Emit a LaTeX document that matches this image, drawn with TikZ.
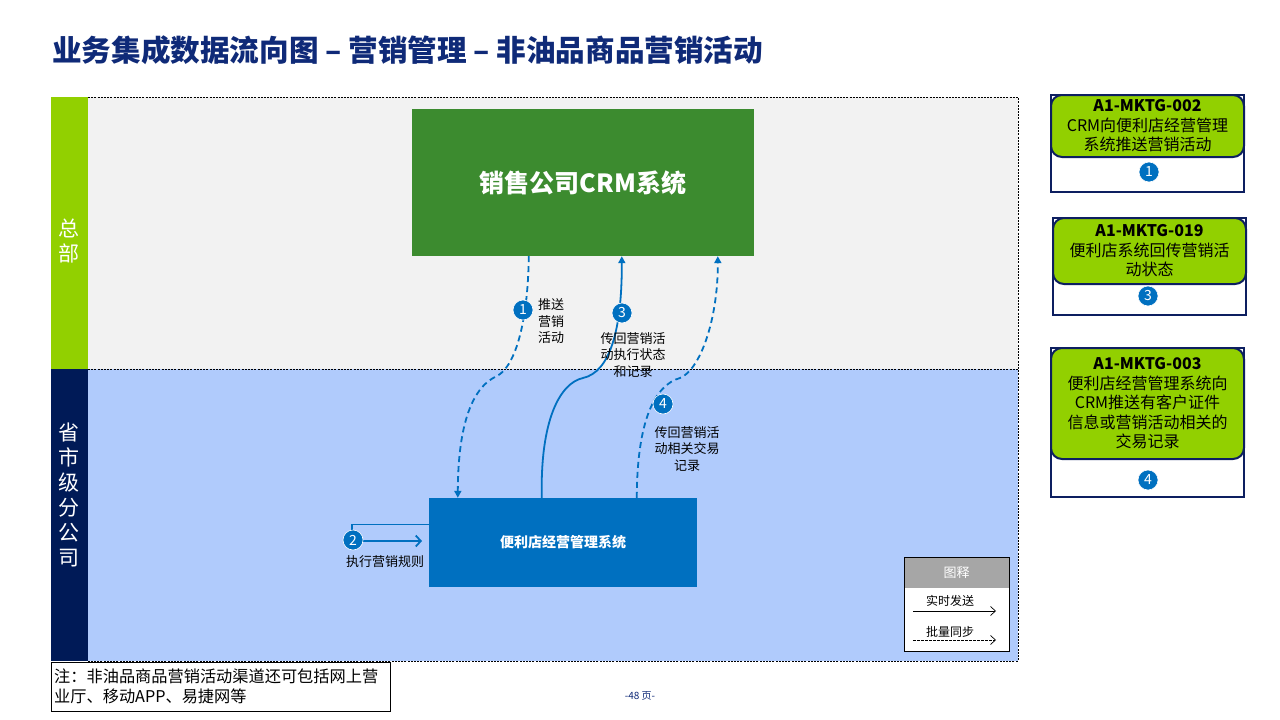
\documentclass[tikz,border=0pt]{standalone}
\usepackage{fontspec}
\setmainfont{Noto Sans CJK SC}
\usetikzlibrary{arrows.meta,calc}
\definecolor{titlenavy}{HTML}{0F2A78}
\definecolor{lanegreen}{HTML}{92D000}
\definecolor{lanenavy}{HTML}{001A57}
\definecolor{lanegray}{HTML}{F2F2F2}
\definecolor{laneblue}{HTML}{B0CBFC}
\definecolor{crmgreen}{HTML}{3C8B2F}
\definecolor{boxblue}{HTML}{0070C0}
\definecolor{cardnavy}{HTML}{0D1F60}
\definecolor{legendgray}{HTML}{A6A6A6}
\tikzset{
  numcirc/.style={circle, fill=boxblue, draw=white, line width=0.6pt, minimum size=20pt, inner sep=0pt, text=white, font=\fontsize{14}{14}\selectfont},
  flowline/.style={draw=boxblue, line width=1.8pt, -{Triangle[length=7pt,width=7pt]}},
  batch/.style={flowline, dash pattern=on 6pt off 4pt},
  lbl/.style={align=center, font=\fontsize{13}{16.5}\selectfont, inner sep=0pt},
  cardouter/.style={draw=cardnavy, line width=2.5pt, fill=white, minimum width=193pt, inner sep=0pt},
  cardhead/.style={draw=cardnavy, line width=2pt, fill=lanegreen, rounded corners=11pt, minimum width=193pt, inner sep=0pt},
  cardtext/.style={align=center, inner sep=0pt, font=\fontsize{16}{19.5}\selectfont},
  laneborder/.style={draw=black, line width=0.8pt, dash pattern=on 2pt off 1.2pt},
}
\begin{document}
\begin{tikzpicture}[x=1pt,y=-1pt]
\useasboundingbox[fill=white] (0,0) rectangle (1280,720);

% title
\node[anchor=west, inner sep=0pt, text=titlenavy, font=\fontsize{29.6}{29.6}\selectfont\bfseries] (title) at (52,50) {业务集成数据流向图 – 营销管理 – 非油品商品营销活动};

% lanes
\fill[lanegray] (88,97) rectangle (1018,369);
\fill[laneblue] (88,369) rectangle (1018,661);
\fill[lanegreen] (51,97) rectangle (88,369);
\fill[lanenavy] (51,369) rectangle (88,661);
\draw[laneborder] (88,97) -- (1018,97) -- (1018,661) -- (88,661);
\draw[laneborder] (88,369) -- (1018,369);
\node[text=white, align=center, inner sep=0pt, font=\fontsize{21}{25}\selectfont] (hq) at (69,241) {总\\部};
\node[text=white, align=center, inner sep=0pt, font=\fontsize{21}{25}\selectfont] (prov) at (69,494.5) {省\\市\\级\\分\\公\\司};

% systems
\node[fill=crmgreen, minimum width=342pt, minimum height=147pt, inner sep=0pt, text=white, font=\fontsize{25}{25}\selectfont\bfseries] (crm) at (583,182.5) {销售公司CRM系统};
\node[fill=boxblue, minimum width=268pt, minimum height=89pt, inner sep=0pt, text=white, font=\fontsize{14}{14}\selectfont\bfseries] (sys) at (563,542.5) {便利店经营管理系统};

% flows
\draw[batch] ([xshift=117pt]crm.south west) .. controls (528,320) and (516,366) .. (497,376) .. controls (470,388) and (458,430) .. ([xshift=29pt]sys.north west);
\draw[flowline] ([xshift=113pt]sys.north west) .. controls (540,420) and (560,383) .. (583,378) .. controls (610,372) and (622,330) .. ([xshift=210pt]crm.south west);
\draw[batch] ([xshift=208pt]sys.north west) .. controls (637,420) and (655,385) .. (680,378) .. controls (700,370) and (718,320) .. ([xshift=306pt]crm.south west);
\coordinate (a2corner) at (352,524.5);
\coordinate (a2end) at (422,541);
\draw[draw=boxblue, line width=1.8pt, -{Straight Barb[length=5pt,width=11pt]}] ([yshift=18pt]sys.west) -- (a2corner) |- (a2end);

\node[numcirc] (n1) at (523,310) {1};
\node[numcirc] (n3) at (622,313) {3};
\node[numcirc] (n4) at (663,404) {4};
\node[numcirc] (n2) at (353,540) {2};

\node[lbl, align=left, anchor=west] (l1) at (538,321.5) {推送\\营销\\活动};
\node[lbl] (l3) at (633,355) {传回营销活\\动执行状态\\和记录};
\node[lbl] (l4) at (687,449) {传回营销活\\动相关交易\\记录};
\node[lbl] (l2) at (385,562) {执行营销规则};

% legend
\node[draw=black, line width=0.8pt, fill=white, minimum width=105pt, minimum height=94pt, inner sep=0pt] (leg) at (956.5,604.5) {};
\node[fill=legendgray, minimum width=104pt, minimum height=30pt, inner sep=0pt, text=white, font=\fontsize{13}{13}\selectfont] (leghead) at (956.5,572.5) {图释};
\node[font=\fontsize{12}{12}\selectfont, inner sep=0pt] (legt1) at (950,601) {实时发送};
\node[font=\fontsize{12}{12}\selectfont, inner sep=0pt] (legt2) at (950,632) {批量同步};
\coordinate (ls1) at (913,611); \coordinate (le1) at (996,611);
\coordinate (ls2) at (913,640); \coordinate (le2) at (996,640);
\draw[line width=0.7pt, -{Straight Barb[length=5pt,width=9pt]}] (ls1) -- (le1);
\draw[line width=0.7pt, dash pattern=on 2.5pt off 1.5pt, -{Straight Barb[length=5pt,width=9pt]}] (ls2) -- (le2);

% cards
\node[cardouter, minimum height=97pt] (c1) at (1147.5,143.5) {};
\node[cardhead, minimum height=62pt] (c1h) at (1147.5,126) {};
\node[cardtext] (c1t) at (c1h.center) {\textbf{A1-MKTG-002}\\CRM向便利店经营管理\\系统推送营销活动};
\node[numcirc] (c1n) at (1149,172) {1};

\node[cardouter, minimum height=97pt] (c2) at (1149.5,266.5) {};
\node[cardhead, minimum height=66pt] (c2h) at (1149.5,251) {};
\node[cardtext] (c2t) at (c2h.center) {\textbf{A1-MKTG-019}\\便利店系统回传营销活\\动状态};
\node[numcirc] (c2n) at (1148,296) {3};

\node[cardouter, minimum height=149pt] (c3) at (1147.5,422.5) {};
\node[cardhead, minimum height=111pt] (c3h) at (1147.5,403.5) {};
\node[cardtext] (c3t) at (c3h.center) {\textbf{A1-MKTG-003}\\便利店经营管理系统向\\CRM推送有客户证件\\信息或营销活动相关的\\交易记录};
\node[numcirc] (c3n) at (1148,480) {4};

% note
\node[draw=black, line width=0.8pt, fill=white, minimum width=339pt, minimum height=49pt, inner sep=0pt] (note) at (220.5,686.5) {};
\node[anchor=west, align=left, inner sep=0pt, font=\fontsize{16.2}{20}\selectfont] (notet) at (54,686.5) {注：非油品商品营销活动渠道还可包括网上营\\业厅、移动APP、易捷网等};

\node[text=titlenavy, inner sep=0pt, font=\fontsize{10}{10}\selectfont] (page) at (640,696) {-48 页-};
\end{tikzpicture}
\end{document}
